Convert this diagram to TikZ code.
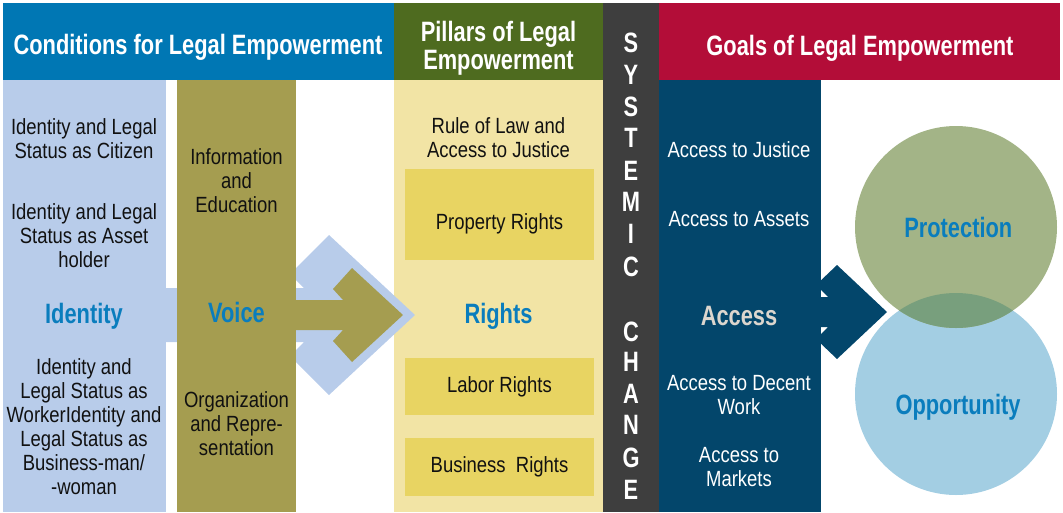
\documentclass[tikz,border=0pt]{standalone}
\usepackage{fontspec}
\setmainfont{Liberation Sans}
\newfontfamily\hfont{Liberation Sans}[FakeStretch=0.78]
\newfontfamily\bfont{Liberation Sans}[FakeStretch=0.84]
\definecolor{hblue}{HTML}{0077B4}
\definecolor{pgreen}{HTML}{4E6B1F}
\definecolor{dgray}{HTML}{3E3E3E}
\definecolor{hred}{HTML}{B30D38}
\definecolor{lblue}{HTML}{B8CCEA}
\definecolor{olive}{HTML}{A59D50}
\definecolor{pyellow}{HTML}{F2E4A5}
\definecolor{ybox}{HTML}{E8D462}
\definecolor{navy}{HTML}{03466B}
\definecolor{tblue}{HTML}{0A7DBD}
\definecolor{agray}{HTML}{DCD6CE}
\definecolor{cgreen}{HTML}{A3B487}
\definecolor{cblue}{HTML}{A3CEE3}
\definecolor{cmix}{HTML}{789F7D}
\definecolor{btext}{HTML}{111111}
\begin{document}
\begin{tikzpicture}[x=1pt,y=-1pt,
  body/.style={font=\bfont\fontsize{22}{24}\selectfont, align=center, inner sep=0pt, text=btext,
    execute at begin node=\strut, execute at end node=\strut},
  wbody/.style={body, text=white},
  head/.style={font=\hfont\bfseries\fontsize{28}{28}\selectfont, align=center, inner sep=0pt, text=white,
    execute at begin node=\strut, execute at end node=\strut},
  key/.style={head, text=tblue},
  letter/.style={head}
]
\useasboundingbox (0,0) rectangle (1063,512);
% header bars
\fill[hblue] (3,3) rectangle (394,80);
\fill[pgreen] (394,3) rectangle (603,80);
\fill[dgray] (603,3) rectangle (659,512);
\fill[hred] (659,3) rectangle (1060,80);
% columns
\fill[lblue] (3,80) rectangle (166,512);
\fill[pyellow] (394,80) rectangle (603,512);
\fill[navy] (659,80) rectangle (821,512);
% yellow boxes
\fill[ybox] (405,169) rectangle (594,260);
\fill[ybox] (405,358) rectangle (594,415);
\fill[ybox] (405,438) rectangle (594,496);
% light blue arrow
\fill[lblue] (166,288) -- (304,288) -- (290,274) -- (329,235) -- (415,315) -- (329,395)
  -- (290,356) -- (304,342) -- (166,342) -- cycle;
% olive column and arrow
\fill[olive] (177,80) rectangle (296,512);
\fill[olive] (290,300) -- (343,300) -- (333,289) -- (352,268) -- (403,315) -- (352,362)
  -- (333,341) -- (343,330) -- (290,330) -- cycle;
% navy arrow
\fill[navy] (815,297) -- (828,297) -- (816,285) -- (837,265) -- (887,312) -- (837,359)
  -- (816,339) -- (828,327) -- (815,327) -- cycle;
% circles
\fill[cblue] (956,394) circle[radius=101];
\fill[cgreen] (956,227) circle[radius=101];
\begin{scope}
  \clip (956,394) circle[radius=101];
  \fill[cmix] (956,227) circle[radius=101];
\end{scope}
% header texts
\node[head] (hcond) at (198,48.6) {Conditions for Legal Empowerment};
\node[head] (hpil) at (498.5,49.4) {Pillars of Legal\\Empowerment};
\node[head] (hgoal) at (860,49.4) {Goals of Legal Empowerment};
% systemic change letters
\foreach \l/\yy [count=\i] in {S/42,Y/74,S/106,T/137,E/170,M/201,I/233,C/266,C/331,H/361,A/393,N/424,G/457,E/489}
  \node[letter] (sc\i) at (631,\yy+4.4) {\l};
% column 1
\node[body] (id1) at (84,142.1) {Identity and Legal\\Status as Citizen};
\node[body] (id2) at (84,238.8) {Identity and Legal\\Status as Asset\\holder};
\node[key] (idk) at (84,317.4) {Identity};
\node[body] (id3) at (84,430.1) {Identity and\\Legal Status as\\WorkerIdentity and\\Legal Status as\\Business-man/\\-woman};
% column 2
\node[body] (vo1) at (236.5,184.6) {Information\\and\\Education};
\node[key] (vok) at (236.5,316.9) {Voice};
\node[body] (vo2) at (236.5,427.1) {Organization\\and Repre-\\sentation};
% pillars
\node[body] (pi1) at (498.5,141.6) {Rule of Law and\\Access to Justice};
\node[body] (pi2) at (499.5,224.6) {Property Rights};
\node[key] (pik) at (498.5,317.4) {Rights};
\node[body] (pi3) at (499.5,388.1) {Labor Rights};
\node[body] (pi4) at (499.5,468.1) {Business\ \ Rights};
% access
\node[wbody] (ac1) at (739,153.1) {Access to Justice};
\node[wbody] (ac2) at (739,221.4) {Access to Assets};
\node[head, text=agray] (ack) at (739,319.4) {Access};
\node[wbody] (ac3) at (739,398.4) {Access to Decent\\Work};
\node[wbody] (ac4) at (739,470.1) {Access to\\Markets};
% goals
\node[key] (gpro) at (958.3,231.9) {Protection};
\node[key] (gopp) at (958,408.4) {Opportunity};
\end{tikzpicture}
\end{document}
